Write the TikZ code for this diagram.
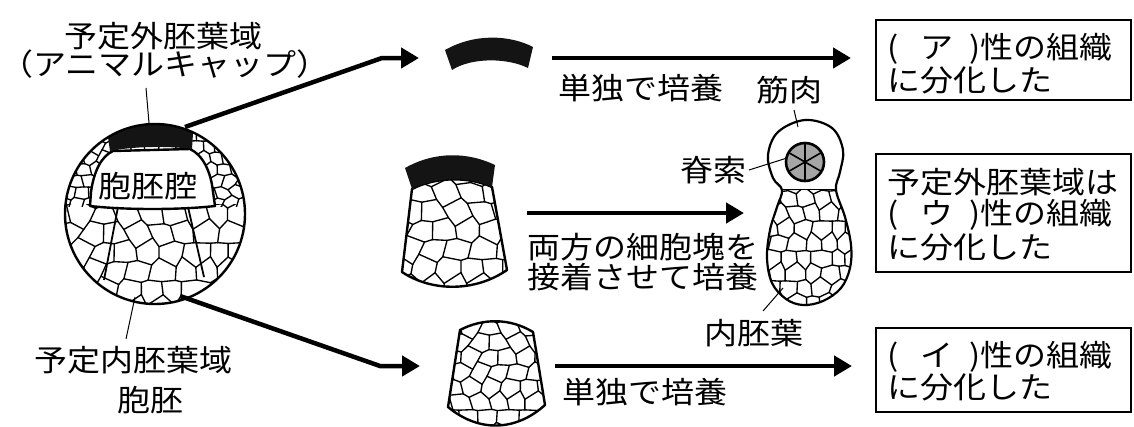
\documentclass[tikz,border=0pt]{standalone}
\usepackage{fontspec}
\newfontfamily\jpfont[FakeStretch=1.1]{Noto Sans CJK JP}
\usetikzlibrary{arrows.meta}
\tikzset{
  declare function={
    jx(\p,\q)=0.28*sin(\p*\p*5.3+\q*\q*11.7+\p*\q*13.1+\p*41+\q*67);
    jy(\p,\q)=0.14*cos(\p*\p*3.1+\q*\q*9.3+\p*\q*17.9+\p*29+\q*53)+0.15*(1-2*mod(\p+\q,2));
  },
  cellline/.style={line width=1.35pt, line cap=round, line join=round},
  outline/.style={line width=2.4pt, line join=round},
  bigarrow/.style={line width=4.5pt, -{Triangle[length=18pt,width=20pt]}},
  ptr/.style={line width=1pt},
  lbl/.style={font=\jpfont\fontsize{30}{33}\selectfont, inner sep=0pt},
  btxt/.style={lbl, anchor=west},
  box/.style={draw, line width=1.8pt, inner sep=0pt},
}
% #1 x0, #2 y0, #3 nx, #4 ny, #5 s, #6 h, #7 index offset
\newcommand{\cellnet}[7]{%
  \foreach \ii in {0,...,#3}{%
    \foreach \j in {0,...,#4}{%
      \pgfmathtruncatemacro{\i}{\ii+#7}%
      \pgfmathtruncatemacro{\inext}{\i+1}%
      \pgfmathtruncatemacro{\jnext}{\j+1}%
      \pgfmathtruncatemacro{\odd}{mod(\i+\j,2)}%
      \pgfmathsetmacro{\ax}{#1+#5*(\ii+jx(\i,\j))}%
      \pgfmathsetmacro{\ay}{#2+#6*(\j+jy(\i,\j))}%
      \pgfmathsetmacro{\bx}{#1+#5*(\ii+1+jx(\inext,\j))}%
      \pgfmathsetmacro{\by}{#2+#6*(\j+jy(\inext,\j))}%
      \draw[cellline] (\ax,\ay) -- (\bx,\by);%
      \ifnum\odd=0
        \pgfmathsetmacro{\cx}{#1+#5*(\ii+jx(\i,\jnext))}%
        \pgfmathsetmacro{\cy}{#2+#6*(\jnext+jy(\i,\jnext))}%
        \draw[cellline] (\ax,\ay) -- (\cx,\cy);%
      \fi
    }%
  }%
}
\def\embryopath{plot[smooth cycle, tension=0.6] coordinates {(782,190) (773,178) (768,155) (778,132) (805,120) (832,128) (843,150) (840,172) (836,190) (845,217) (851,245) (850,268) (841,288) (823,301) (803,305) (786,299) (772,283) (767,258) (770,230) (777,207)}}
\begin{document}
\begin{tikzpicture}[x=1pt,y=-1pt]
\useasboundingbox (0,0) rectangle (1134,426);
\fill[white] (0,0) rectangle (1134,426);

% ---------------- blastula ----------------
\coordinate (bc) at (155,214);
\begin{scope}
  \clip (155,214) circle[radius=90];
  \begin{scope}
    \clip (60,110) rectangle (250,206);
    \cellnet{62}{118}{28}{9}{7}{11.5}{0}
  \end{scope}
  \begin{scope}
    \clip (60,204) rectangle (250,320);
    \cellnet{58}{205}{17}{6}{11.5}{19}{3}
  \end{scope}
\end{scope}
% blastocoel
\draw[outline, fill=white] (90,206) -- (91,192) .. controls (94,170) and (102,156) .. (113,151) -- (190,149) .. controls (203,155) and (211,172) .. (213,192) -- (215,206) .. controls (180,210) and (125,210) .. cycle;
% animal cap
\fill[black!92] (108,137.3) arc[start angle=-121.5, end angle=-65, radius=90] -- (192,149) .. controls (170,146) and (135,146) .. (110,151) -- cycle;
\draw[line width=1.8pt] (118,207) -- (104,280);
\draw[line width=1.8pt] (188,207) -- (204,277);
\draw[outline] (155,214) circle[radius=90];
\node[lbl] (cavity) at (148,186) {胞胚腔};

\node[lbl] (ectoA) at (163,36) {予定外胚葉域};
\node[lbl] (ectoB) at (165,64) {（アニマルキャップ）};
\node[lbl] (endoL) at (133,360) {予定内胚葉域};
\node[lbl] (blast) at (150,400) {胞胚};
\coordinate (capTop) at (149,123);
\coordinate (capPtr) at (146,88);
\draw[ptr] (capPtr) -- (capTop);
\coordinate (vegBot) at (135,297);
\coordinate (vegPtr) at (126,339);
\draw[ptr] (vegBot) -- (vegPtr);

% arrows from blastula
\coordinate (capR) at (185,127);
\coordinate (bend1) at (382,58);
\coordinate (tip1) at (419,58);
\draw[bigarrow] (capR) -- (bend1) -- (tip1);
\coordinate (vegR) at (180,296);
\coordinate (bend2) at (380,366);
\coordinate (tip2) at (420,366);
\draw[bigarrow] (vegR) -- (bend2) -- (tip2);

% ---------------- isolated cap ----------------
\fill[black!92] (445,50) .. controls (475,33) and (510,35) .. (533,47) -- (528,68) .. controls (508,58) and (472,57) .. (452,70) -- cycle;
\coordinate (a1s) at (552,58);
\coordinate (a1e) at (851,58);
\draw[bigarrow] (a1s) -- (a1e);
\node[lbl] (cult1) at (641,88) {単独で培養};

% ---------------- combined piece ----------------
\begin{scope}
  \clip (412,189) .. controls (435,177) and (468,176) .. (492,187) -- (507,270) .. controls (475,292) and (432,292) .. (402,272) -- cycle;
  \cellnet{398}{183}{10}{6}{12}{19}{5}
\end{scope}
\draw[outline] (412,189) .. controls (435,177) and (468,176) .. (492,187) -- (507,270) .. controls (475,292) and (432,292) .. (402,272) -- cycle;
\fill[black!92] (405,168) .. controls (435,151) and (468,152) .. (495,165) -- (492,187) .. controls (468,176) and (435,177) .. (412,189) -- cycle;
\coordinate (a2s) at (527,213);
\coordinate (a2e) at (744,213);
\draw[bigarrow] (a2s) -- (a2e);
\node[btxt] (both1) at (527,247) {両方の細胞塊を};
\node[btxt] (both2) at (527,277) {接着させて培養};

% ---------------- embryo ----------------
\begin{scope}
  \clip \embryopath;
  \clip (750,189) rectangle (870,320);
  \cellnet{762}{191}{12}{8}{8.5}{15}{8}
  \draw[cellline] (770,189.5) -- (845,189);
\end{scope}
\draw[outline, line width=2.2pt] \embryopath;
\draw[line width=2.6pt, fill=black!35] (805,162) circle[radius=19];
\foreach \a in {30,90,...,330} \draw[line width=1.6pt] (805,162) -- ++(\a:18);
\node[lbl] (muscle) at (789,90) {筋肉};
\node[lbl] (noto) at (713,170) {脊索};
\node[lbl] (endo) at (754,333) {内胚葉};
\coordinate (mA) at (794,110); \coordinate (mB) at (798,127);
\draw[ptr] (mA) -- (mB);
\coordinate (nA) at (749,170); \coordinate (nB) at (787,158);
\draw[ptr] (nA) -- (nB);
\coordinate (eA) at (763,311); \coordinate (eB) at (783,288);
\draw[ptr] (eA) -- (eB);

% ---------------- endoderm piece ----------------
\begin{scope}
  \clip (460,330) .. controls (483,318) and (510,318) .. (533,332) -- (545,405) .. controls (515,432) and (478,432) .. (448,407) -- cycle;
  \cellnet{442}{320}{12}{7}{9.5}{15}{2}
\end{scope}
\draw[outline] (460,330) .. controls (483,318) and (510,318) .. (533,332) -- (545,405) .. controls (515,432) and (478,432) .. (448,407) -- cycle;
\coordinate (a3s) at (555,366);
\coordinate (a3e) at (852,366);
\draw[bigarrow] (a3s) -- (a3e);
\node[lbl] (cult2) at (645,392) {単独で培養};

% ---------------- result boxes ----------------
\node[box, minimum width=255pt, minimum height=80pt] (box1) at (1003.5,60) {};
\node[box, minimum width=255pt, minimum height=118pt] (box2) at (1003.5,213) {};
\node[box, minimum width=255pt, minimum height=84pt] (box3) at (1003.5,370) {};
\node[btxt] (t1a) at (887,49) {(\hspace{22pt}ア\hspace{16pt})性の組織};
\node[btxt] (t1b) at (887,80) {に分化した};
\node[btxt] (t2a) at (887,182) {予定外胚葉域は};
\node[btxt] (t2b) at (887,215) {(\hspace{22pt}ウ\hspace{16pt})性の組織};
\node[btxt] (t2c) at (887,247) {に分化した};
\node[btxt] (t3a) at (887,357) {(\hspace{22pt}イ\hspace{16pt})性の組織};
\node[btxt] (t3b) at (887,387) {に分化した};
\end{tikzpicture}
\end{document}
